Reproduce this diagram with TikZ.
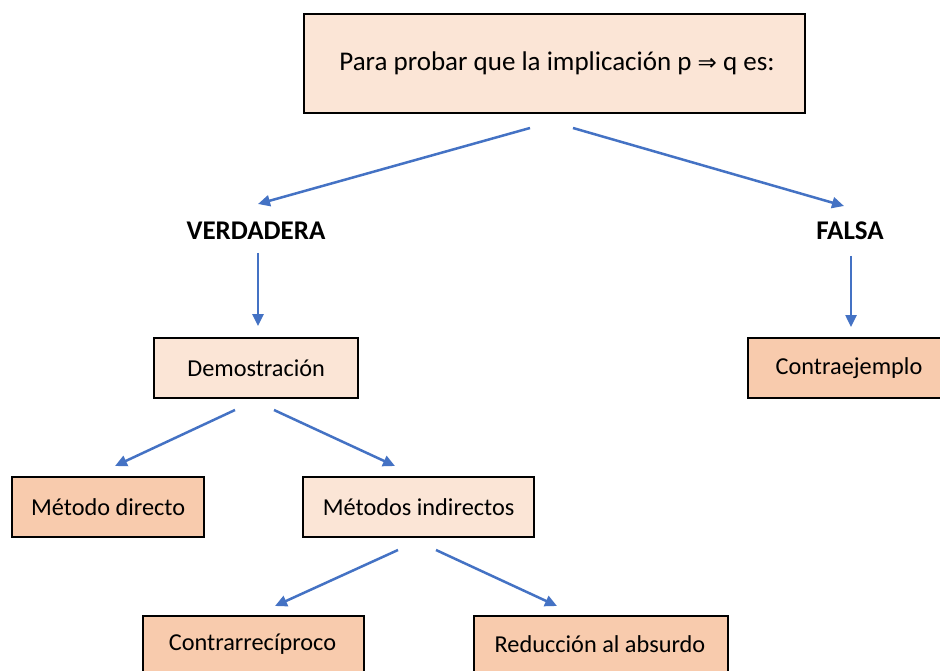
\documentclass[tikz,border=0pt]{standalone}
\usepackage{fontspec}
\setmainfont{Carlito}
\newfontfamily\symfont{DejaVu Sans}
\usetikzlibrary{arrows.meta}
\definecolor{peachL}{HTML}{FBE5D6}
\definecolor{peachD}{HTML}{F8CBAD}
\definecolor{arrblue}{HTML}{4472C4}
\tikzset{
  box/.style={draw=black, line width=2.3pt, inner sep=0pt, anchor=north west},
  lbl/.style={font=\fontsize{24.3}{29}\selectfont},
  bold/.style={font=\fontsize{27}{32}\selectfont\bfseries},
  arr/.style={draw=arrblue, line width=2.5pt, -{Triangle[length=12pt,width=11pt]}},
}
\begin{document}
\begin{tikzpicture}[x=1pt,y=-1pt]
\useasboundingbox (0,0) rectangle (940,671);
\fill[white] (0,0) rectangle (940,671);
% boxes
\node[box, fill=peachL, minimum width=501pt, minimum height=99pt] (top) at (303,13) {};
\node[font=\fontsize{27}{32}\selectfont] at (557,63) {Para probar que la implicación p {\symfont\fontsize{23}{28}\selectfont ⇒} q es:};
\node[bold] (ver) at (256,231) {VERDADERA};
\node[bold] (fal) at (850,231) {FALSA};
\node[box, fill=peachL, minimum width=204pt, minimum height=60pt] (dem) at (153,337) {};
\node[lbl] at (dem.center) {Demostración};
\node[box, fill=peachD, minimum width=200pt, minimum height=60pt] (con) at (747,337) {};
\node[lbl] at (849,368) {Contraejemplo};
\node[box, fill=peachD, minimum width=192pt, minimum height=60pt] (dir) at (11,476) {};
\node[lbl] at (dir.center) {Método directo};
\node[box, fill=peachL, minimum width=231pt, minimum height=60pt] (ind) at (302,476) {};
\node[lbl] at (ind.center) {Métodos indirectos};
\node[box, fill=peachD, minimum width=221pt, minimum height=70pt] (rec) at (142,615) {};
\node[lbl] at (252.5,644) {Contrarrecíproco};
\node[box, fill=peachD, minimum width=254pt, minimum height=70pt] (abs) at (473,615) {};
\node[lbl] at (600,644) {Reducción al absurdo};
% arrow end points
\coordinate (t1) at (530,128); \coordinate (t1e) at (258,204);
\coordinate (t2) at (573,128); \coordinate (t2e) at (844,206);
\coordinate (v1) at (258,253); \coordinate (v1e) at (258,326);
\coordinate (f1) at (851,256); \coordinate (f1e) at (851,327);
\coordinate (d1) at (235,410); \coordinate (d1e) at (115,466);
\coordinate (d2) at (274,410); \coordinate (d2e) at (395,466);
\coordinate (i1) at (398,550); \coordinate (i1e) at (275,606);
\coordinate (i2) at (436,550); \coordinate (i2e) at (557,606);
\draw[arr] (t1) -- (t1e);
\draw[arr] (t2) -- (t2e);
\draw[arr] (v1) -- (v1e);
\draw[arr] (f1) -- (f1e);
\draw[arr] (d1) -- (d1e);
\draw[arr] (d2) -- (d2e);
\draw[arr] (i1) -- (i1e);
\draw[arr] (i2) -- (i2e);
\end{tikzpicture}
\end{document}
